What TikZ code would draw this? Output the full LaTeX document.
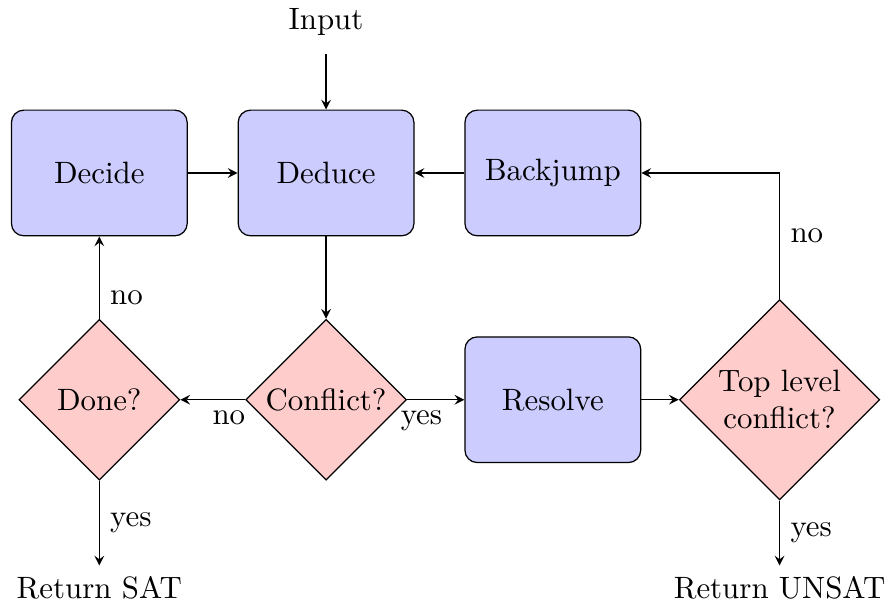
\documentclass[tikz,border=0pt]{standalone}
\usetikzlibrary{shapes.geometric,positioning}
\tikzstyle{block}=[draw=black,fill=blue!20,rectangle,rounded corners,minimum width=2cm,minimum height=1.43cm]
\tikzstyle{decision}=[draw=black,fill=red!20,diamond,aspect=1,inner sep=0pt,minimum size=1.83cm,align=center]
\tikzstyle{line}=[draw,-stealth]

\begin{document}
\begin{tikzpicture}[node distance=2.58cm,on grid]
  \useasboundingbox (-3.71,-4.926) rectangle (6.405,1.968);
  \node [block] (deduce) at (0,0) {Deduce};
  \node [block,left=of deduce] (decide) {Decide};
  \node [block,right=of deduce] (backjump) {Backjump};
  \node [decision,below=of deduce] (conflict) {Conflict?};
  \node [decision,below=of decide] (done) {Done?};
  \node [block,below=of backjump] (resolve) {Resolve};
  \node [decision,minimum size=2.28cm,right=of resolve] (toplevel) {Top level\\conflict?};
  \node [above=1.72cm of deduce,inner sep=6pt] (input) {Input};
  \node [below=2.14cm of done] (sat) {Return SAT};
  \node (unsat) at (sat -| toplevel) {Return UNSAT};
  \path [line] (input) -- (deduce);
  \path [line] (decide) -- (deduce);
  \path [line] (backjump) -- (deduce);
  \path [line] (deduce) -- (conflict);
  \path [line] (conflict) -- node [near start,below] {no} (done);
  \path [line] (conflict) -- node [near start,below] {yes} (resolve);
  \path [line] (done) -- node [pos=0.25,right] {no} (decide);
  \path [line] (done) -- node [right] {yes} (sat);
  \path [line] (resolve) -- (toplevel);
  \path [line] (toplevel) |- node [pos=0.25,right] {no} (backjump);
  \path [line] (toplevel) -- node [right] {yes} (unsat);
\end{tikzpicture}
\end{document}
